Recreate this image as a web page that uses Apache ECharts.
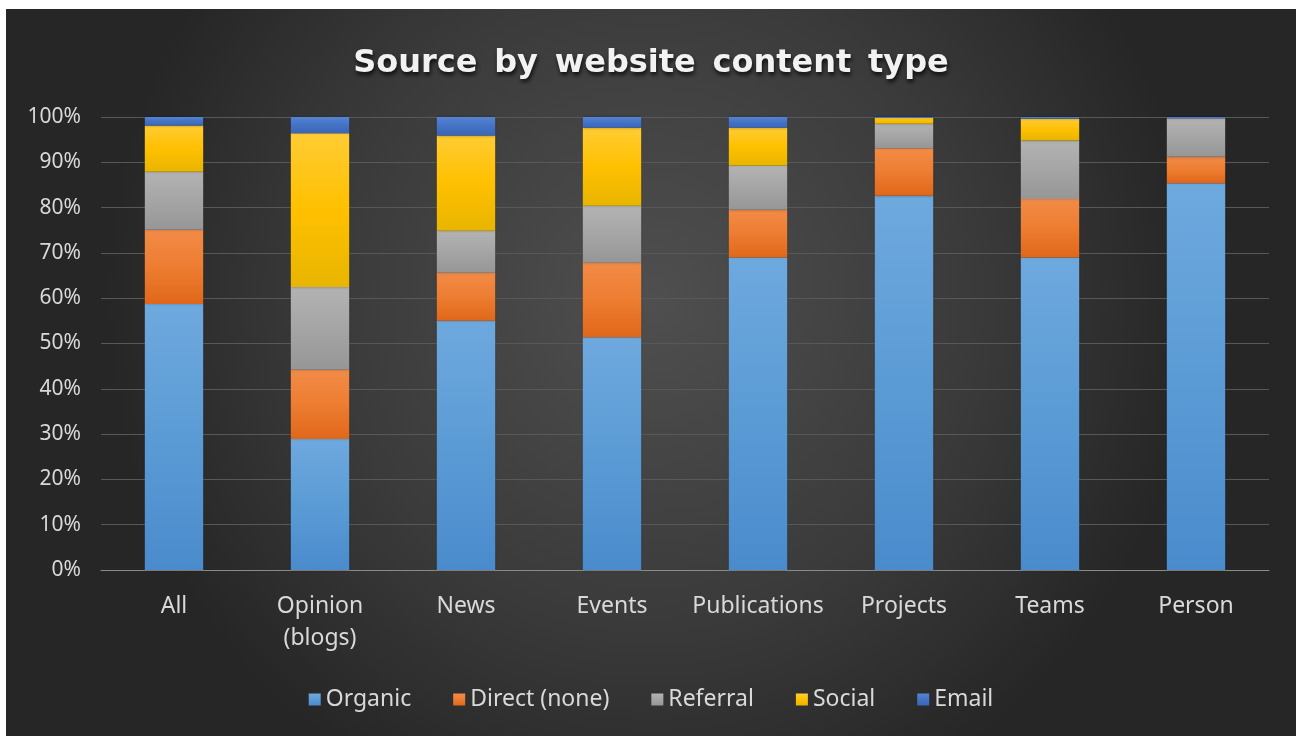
<!DOCTYPE html>
<html>
<head>
<meta charset="utf-8">
<script src="https://cdn.jsdelivr.net/npm/echarts@6/dist/echarts.min.js"></script>
<style>
  html, body { margin: 0; padding: 0; background: #ffffff; width: 1296px; height: 736px; overflow: hidden; }
  #chart { position: absolute; left: 6px; top: 9px; width: 1290px; height: 727px; }
</style>
</head>
<body>
<div id="chart"></div>
<script>
const categories = ['All', 'Opinion\n(blogs)', 'News', 'Events', 'Publications', 'Projects', 'Teams', 'Person'];
const organic  = [58.7, 28.9, 55.0, 51.4, 69.0, 82.6, 69.0, 85.4];
const direct   = [16.4, 15.3, 10.6, 16.4, 10.5, 10.5, 12.9, 5.8];
const referral = [12.8, 18.3, 9.3, 12.6, 9.8, 5.4, 12.9, 8.5];
const social   = [10.2, 33.9, 21.0, 17.2, 8.3, 1.3, 4.8, 0.0];
const email    = [1.9, 3.6, 4.1, 2.4, 2.4, 0.2, 0.4, 0.3];
const seriesNames = ['Organic', 'Direct (none)', 'Referral', 'Social', 'Email'];
const yTicks = [0, 10, 20, 30, 40, 50, 60, 70, 80, 90, 100];
const titleText = 'Source by website content type';

const seriesData = [organic, direct, referral, social, email];
const baseColors = ['#5B9BD5', '#ED7D31', '#A5A5A5', '#FFC000', '#4472C4'];
const topColors  = ['#6EA9DE', '#F28B47', '#B3B3B3', '#FFCC33', '#5584D4'];
const botColors  = ['#4A8BCD', '#E0671A', '#969696', '#E8B500', '#3A66B8'];

function grad(i) {
  return {
    type: 'linear', x: 0, y: 0, x2: 0, y2: 1,
    colorStops: [
      { offset: 0, color: topColors[i] },
      { offset: 0.5, color: baseColors[i] },
      { offset: 1, color: botColors[i] }
    ]
  };
}

// word-spaced title: words in style "w", separating spaces in wider style "s"
const titleRich = titleText.split(' ').map(w => '{w|' + w + '}').join('{s| }');

const chart = echarts.init(document.getElementById('chart'), null, { renderer: 'canvas' });
const font = '"Noto Sans", "Open Sans", sans-serif';
const titleStyle = {
  fontFamily: '"DejaVu Sans", sans-serif',
  fontSize: 32,
  fontWeight: 'bold',
  color: '#f2f2f2',
  textShadowColor: 'rgba(0,0,0,0.8)',
  textShadowBlur: 4,
  textShadowOffsetX: 1,
  textShadowOffsetY: 3
};

chart.setOption({
  animation: false,
  backgroundColor: {
    type: 'radial', x: 0.5, y: 0.4, r: 0.75,
    colorStops: [
      { offset: 0, color: '#4f4f4f' },
      { offset: 0.6, color: '#3a3a3a' },
      { offset: 1, color: '#262626' }
    ]
  },
  title: {
    text: titleRich,
    left: 'center',
    top: 26,
    textStyle: Object.assign({}, titleStyle, {
      rich: {
        w: Object.assign({}, titleStyle),
        s: Object.assign({}, titleStyle, { fontSize: 48 })
      }
    })
  },
  legend: {
    data: seriesNames,
    bottom: 20,
    left: 'center',
    itemWidth: 12,
    itemHeight: 12,
    itemGap: 42,
    icon: 'rect',
    textStyle: { color: '#d9d9d9', fontSize: 23, fontFamily: font }
  },
  grid: { left: 95, right: 27, top: 108, bottom: 166, containLabel: false },
  xAxis: {
    type: 'category',
    data: categories,
    axisLine: { lineStyle: { color: '#8a8a8a', width: 1 } },
    axisTick: { show: false },
    axisLabel: {
      color: '#d9d9d9', fontSize: 23, fontFamily: font, lineHeight: 32, margin: 20,
      interval: 0
    }
  },
  yAxis: {
    type: 'value',
    min: 0, max: 100, interval: 10,
    axisLine: { show: false },
    axisTick: { show: false },
    splitLine: { lineStyle: { color: '#585858', width: 1 } },
    axisLabel: {
      color: '#d9d9d9', fontSize: 21, fontFamily: font, margin: 20,
      formatter: v => yTicks.includes(v) ? v + '%' : ''
    }
  },
  series: seriesData.map((d, i) => ({
    name: seriesNames[i],
    type: 'bar',
    stack: 'total',
    barWidth: '40%',
    data: d,
    itemStyle: {
      color: grad(i),
      shadowColor: 'rgba(0,0,0,0.35)',
      shadowBlur: 3
    },
    emphasis: { disabled: true }
  })),
  color: baseColors
});
</script>
</body>
</html>
